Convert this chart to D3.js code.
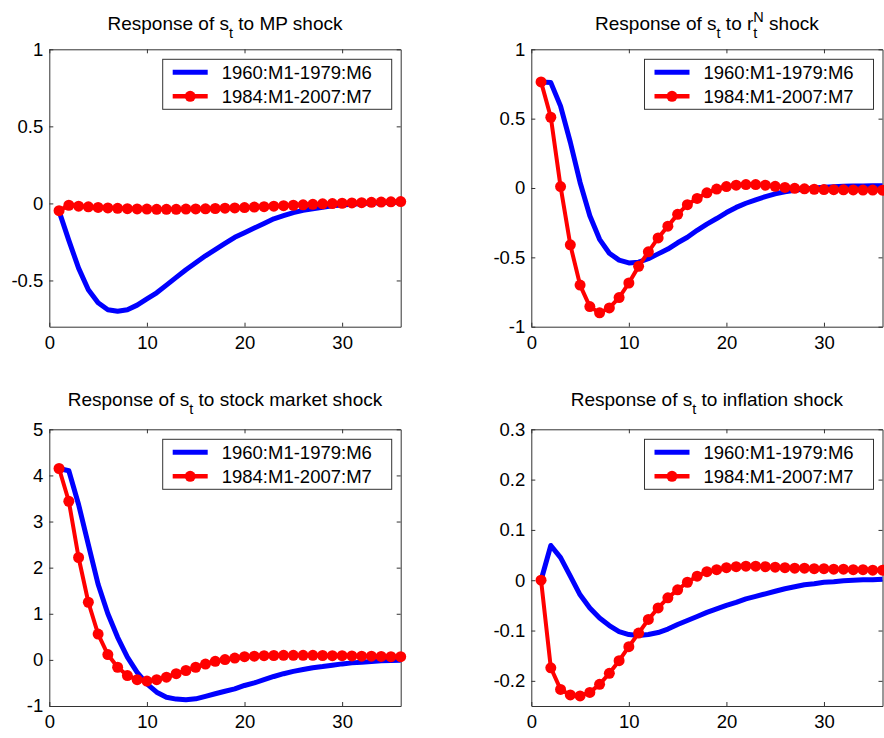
<!DOCTYPE html>
<html lang="en">
<head>
<meta charset="UTF-8" />
<script src="https://cdn.jsdelivr.net/npm/d3@7"></script>
<title>Impulse responses of s_t</title>
<style>
  body { margin: 0; background: #fff; }
  svg { display: block; font-family: "Liberation Sans", Arial, sans-serif; }
  .title text { white-space: pre; }
</style>
</head>
<body>
<svg width="884" height="738"></svg>
<script>
const months = [1, 2, 3, 4, 5, 6, 7, 8, 9, 10, 11, 12, 13, 14, 15, 16, 17, 18,
  19, 20, 21, 22, 23, 24, 25, 26, 27, 28, 29, 30, 31, 32, 33, 34, 35, 36]
const seriesNames = ["1960:M1-1979:M6", "1984:M1-2007:M7"]
const xTicks = [0, 10, 20, 30]

// MP shock
const mpEarly = [-0.05, -0.24, -0.42, -0.56, -0.645, -0.69, -0.70, -0.69, -0.66, -0.62, -0.58, -0.53,
  -0.48, -0.43, -0.385, -0.34, -0.30, -0.26, -0.22, -0.19, -0.16, -0.13, -0.10, -0.08,
  -0.06, -0.045, -0.035, -0.025, -0.015, -0.01, -0.005, 0, 0.003, 0.005, 0.007, 0.008]
const mpLate = [-0.047, -0.012, -0.018, -0.022, -0.026, -0.029, -0.032, -0.034, -0.036, -0.037, -0.038, -0.038,
  -0.038, -0.037, -0.036, -0.035, -0.033, -0.031, -0.029, -0.027, -0.024, -0.021, -0.018, -0.015,
  -0.012, -0.009, -0.006, -0.003, -0.001, 0.001, 0.003, 0.005, 0.007, 0.009, 0.010, 0.012]
const mpTicks = [-0.5, 0, 0.5, 1]

// r^N shock
const rnEarly = [0.765, 0.76, 0.59, 0.33, 0.04, -0.2, -0.37, -0.47, -0.52, -0.54, -0.535, -0.51,
  -0.475, -0.44, -0.395, -0.355, -0.305, -0.26, -0.22, -0.177, -0.14, -0.11, -0.085, -0.062,
  -0.042, -0.028, -0.016, -0.007, 0, 0.005, 0.009, 0.012, 0.014, 0.015, 0.016, 0.016]
const rnLate = [0.765, 0.51, 0.01, -0.41, -0.70, -0.855, -0.90, -0.865, -0.79, -0.685, -0.565, -0.46,
  -0.36, -0.275, -0.19, -0.12, -0.075, -0.035, -0.008, 0.01, 0.02, 0.025, 0.025, 0.02,
  0.012, 0.004, -0.002, -0.006, -0.009, -0.011, -0.012, -0.013, -0.014, -0.015, -0.015, -0.016]
const rnTicks = [-1, -0.5, 0, 0.5, 1]

// stock market shock
const stockEarly = [4.15, 4.10, 3.37, 2.5, 1.64, 1.0, 0.49, 0.06, -0.27, -0.52, -0.70, -0.81,
  -0.85, -0.865, -0.845, -0.79, -0.735, -0.68, -0.63, -0.555, -0.5, -0.43, -0.36, -0.30,
  -0.25, -0.21, -0.17, -0.145, -0.115, -0.087, -0.065, -0.05, -0.035, -0.02, -0.015, -0.007]
const stockLate = [4.15, 3.44, 2.22, 1.25, 0.56, 0.115, -0.16, -0.34, -0.43, -0.46, -0.43, -0.375,
  -0.30, -0.23, -0.16, -0.09, -0.03, 0.007, 0.04, 0.07, 0.08, 0.09, 0.095, 0.10,
  0.10, 0.10, 0.10, 0.095, 0.09, 0.09, 0.085, 0.08, 0.08, 0.075, 0.07, 0.07]
const stockTicks = [-1, 0, 1, 2, 3, 4, 5]

// inflation shock
const inflEarly = [0, 0.069, 0.045, 0.008, -0.029, -0.055, -0.075, -0.09, -0.102, -0.108, -0.11, -0.108,
  -0.104, -0.097, -0.088, -0.08, -0.072, -0.064, -0.057, -0.05, -0.044, -0.037, -0.032, -0.027,
  -0.022, -0.017, -0.013, -0.009, -0.007, -0.004, -0.003, -0.001, 0, 0.001, 0.001, 0.002]
const inflLate = [0, -0.174, -0.217, -0.228, -0.23, -0.223, -0.207, -0.185, -0.16, -0.132, -0.105, -0.078,
  -0.055, -0.035, -0.019, -0.004, 0.008, 0.017, 0.021, 0.025, 0.027, 0.028, 0.028, 0.027,
  0.026, 0.025, 0.024, 0.024, 0.023, 0.023, 0.022, 0.022, 0.021, 0.021, 0.02, 0.02]
const inflTicks = [-0.2, -0.1, 0, 0.1, 0.2, 0.3]

const panels = [
  { title: [["Response of s"], ["t", "sub"], [" to MP shock"]],
    early: mpEarly, late: mpLate, yDomain: [-0.8, 1], yTicks: mpTicks,
    left: 49.3, right: 400.7, top: 49.3, bottom: 326.7, titleY: 30 },
  { title: [["Response of s"], ["t", "sub"], [" to r"], ["t", "sub"], ["N", "sup"], [" shock"]],
    early: rnEarly, late: rnLate, yDomain: [-1, 1], yTicks: rnTicks,
    left: 531.3, right: 882.5, top: 49.3, bottom: 326.7, titleY: 30 },
  { title: [["Response of s"], ["t", "sub"], [" to stock market shock"]],
    early: stockEarly, late: stockLate, yDomain: [-1, 5], yTicks: stockTicks,
    left: 49.3, right: 400.7, top: 429.3, bottom: 706, titleY: 406 },
  { title: [["Response of s"], ["t", "sub"], [" to inflation shock"]],
    early: inflEarly, late: inflLate, yDomain: [-0.25, 0.3], yTicks: inflTicks,
    left: 531.3, right: 882.5, top: 429.3, bottom: 706, titleY: 406 }
]

const fontSize = 18.5
const blue = "#0000ff"
const red = "#ff0000"
const svg = d3.select("svg")

const drawTitle = (g, cx, y, parts) => {
  const t = g.append("g").attr("class", "title")
  let x = 0, lastX = 0
  parts.forEach(([s, kind]) => {
    const startX = kind === "sup" ? lastX : x
    const el = t.append("text")
      .attr("x", startX)
      .attr("y", y + (kind === "sub" ? 8.3 : kind === "sup" ? -8 : 0))
      .attr("font-size", kind ? 14.5 : 19)
      .attr("fill", "#000")
      .text(s)
    const w = el.node().getComputedTextLength()
    lastX = startX
    x = Math.max(x, startX + w)
  })
  t.attr("transform", `translate(${cx - x / 2},0)`)
}

panels.forEach(p => {
  const x = d3.scaleLinear().domain([0, 36]).range([p.left, p.right])
  const y = d3.scaleLinear().domain(p.yDomain).range([p.bottom, p.top])
  const g = svg.append("g")
  const fmt = d => String(d)

  g.append("rect").attr("x", p.left).attr("y", p.top)
    .attr("width", p.right - p.left).attr("height", p.bottom - p.top)
    .attr("fill", "#fff")

  g.append("g").attr("transform", `translate(0,${p.bottom})`)
    .call(d3.axisBottom(x).tickValues(xTicks).tickFormat(fmt).tickSizeInner(-4).tickSizeOuter(0).tickPadding(9))
  g.append("g").attr("transform", `translate(0,${p.top})`)
    .call(d3.axisTop(x).tickValues(xTicks).tickFormat("").tickSizeInner(-4).tickSizeOuter(0))
  g.append("g").attr("transform", `translate(${p.left},0)`)
    .call(d3.axisLeft(y).tickValues(p.yTicks).tickFormat(fmt).tickSizeInner(-4).tickSizeOuter(0).tickPadding(6))
  g.append("g").attr("transform", `translate(${p.right},0)`)
    .call(d3.axisRight(y).tickValues(p.yTicks).tickFormat("").tickSizeInner(-4).tickSizeOuter(0))

  g.selectAll(".domain").attr("stroke", "#333")
  g.selectAll(".tick line").attr("stroke", "#333")
  g.selectAll(".tick text").attr("font-size", fontSize).attr("fill", "#000")
    .attr("font-family", "'Liberation Sans', Arial, sans-serif")

  const line = d3.line().x((d, i) => x(months[i])).y(d => y(d))

  g.append("path").datum(p.early).attr("d", line)
    .attr("fill", "none").attr("stroke", blue).attr("stroke-width", 5).attr("stroke-linejoin", "round")
  g.append("path").datum(p.late).attr("d", line)
    .attr("fill", "none").attr("stroke", red).attr("stroke-width", 4).attr("stroke-linejoin", "round")
  g.append("g").selectAll("circle").data(p.late).join("circle")
    .attr("cx", (d, i) => x(months[i])).attr("cy", d => y(d)).attr("r", 5.5).attr("fill", red)

  // legend
  const lx = p.right - 9 - 229, ly = p.top + 10
  const lg = g.append("g").attr("transform", `translate(${lx},${ly})`)
  lg.append("rect").attr("width", 229).attr("height", 50)
    .attr("fill", "#fff").attr("stroke", "#333").attr("stroke-width", 1)
  const items = [[seriesNames[0], blue, 5, false], [seriesNames[1], red, 4.5, true]]
  items.forEach(([name, c, w, mk], i) => {
    const yy = 13 + i * 24
    lg.append("line").attr("x1", 10).attr("x2", 45).attr("y1", yy).attr("y2", yy)
      .attr("stroke", c).attr("stroke-width", w)
    if (mk) lg.append("circle").attr("cx", 27.5).attr("cy", yy).attr("r", 5.5).attr("fill", c)
    lg.append("text").attr("x", 59).attr("y", yy).attr("dy", "0.35em")
      .attr("font-size", fontSize).attr("fill", "#000").text(name)
  })

  drawTitle(g, (p.left + p.right) / 2, p.titleY, p.title)
})
</script>
</body>
</html>
